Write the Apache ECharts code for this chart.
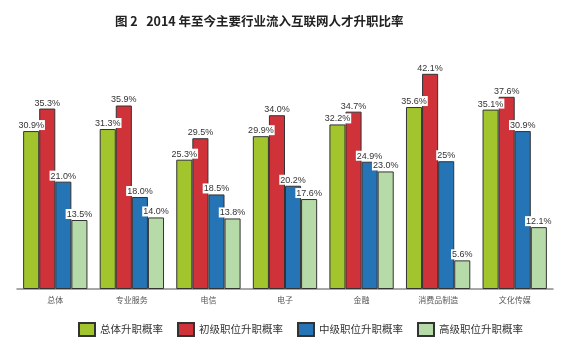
<!DOCTYPE html>
<html>
<head>
<meta charset="utf-8">
<script src="https://cdn.jsdelivr.net/npm/echarts@6/dist/echarts.min.js"></script>
<style>html,body{margin:0;padding:0;background:#fff;}#c{width:580px;height:350px;}</style>
</head>
<body>
<div id="c"></div>
<script>
const categories = ['总体', '专业服务', '电信', '电子', '金融', '消费品制造', '文化传媒'];
const seriesNames = ['总体升职概率', '初级职位升职概率', '中级职位升职概率', '高级职位升职概率'];
const overall = [30.9, 31.3, 25.3, 29.9, 32.2, 35.6, 35.1];
const junior = [35.3, 35.9, 29.5, 34.0, 34.7, 42.1, 37.6];
const middle = [21.0, 18.0, 18.5, 20.2, 24.9, 25, 30.9];
const senior = [13.5, 14.0, 13.8, 17.6, 23.0, 5.6, 12.1];
const labelTexts = [
  ['30.9%', '31.3%', '25.3%', '29.9%', '32.2%', '35.6%', '35.1%'],
  ['35.3%', '35.9%', '29.5%', '34.0%', '34.7%', '42.1%', '37.6%'],
  ['21.0%', '18.0%', '18.5%', '20.2%', '24.9%', '25%', '30.9%'],
  ['13.5%', '14.0%', '13.8%', '17.6%', '23.0%', '5.6%', '12.1%']
];
const colors = ['#a2c52e', '#cf3339', '#2574b6', '#b6dba8'];
const allData = [overall, junior, middle, senior];

const chart = echarts.init(document.getElementById('c'), null, {renderer: 'canvas'});
chart.setOption({
  animation: false,
  title: {
    text: '图 2   2014 年至今主要行业流入互联网人才升职比率',
    left: 110, top: 10,
    textStyle: {fontFamily: 'Noto Sans CJK SC', fontSize: 12.5, fontWeight: 'bold', color: '#222'}
  },
  legend: {
    left: 73, top: 317, icon: 'rect',
    itemWidth: 16, itemHeight: 13, itemGap: 14,
    textStyle: {fontFamily: 'Noto Sans CJK SC', fontSize: 10.5, color: '#333'},
    data: seriesNames
  },
  grid: {left: 17, right: 27, top: 59, bottom: 61},
  xAxis: {
    type: 'category', data: categories,
    axisLine: {lineStyle: {color: '#8a8a8a', width: 1.5}},
    axisTick: {show: false},
    axisLabel: {fontFamily: 'Noto Sans CJK SC', fontSize: 8, color: '#555', margin: 7}
  },
  yAxis: {type: 'value', min: 0, max: 45, show: false, splitLine: {show: false}},
  series: seriesNames.map((name, i) => ({
    name, type: 'bar',
    data: allData[i],
    barGap: '0%', barCategoryGap: '16%',
    itemStyle: {color: colors[i], borderColor: '#333', borderWidth: 1},
    label: {
      show: true, position: 'top', distance: 1,
      fontFamily: 'Liberation Sans', fontSize: 9, color: '#333',
      backgroundColor: '#fff', padding: [1, 1, 0, 1],
      formatter: p => labelTexts[i][p.dataIndex]
    }
  }))
});
</script>
</body>
</html>
